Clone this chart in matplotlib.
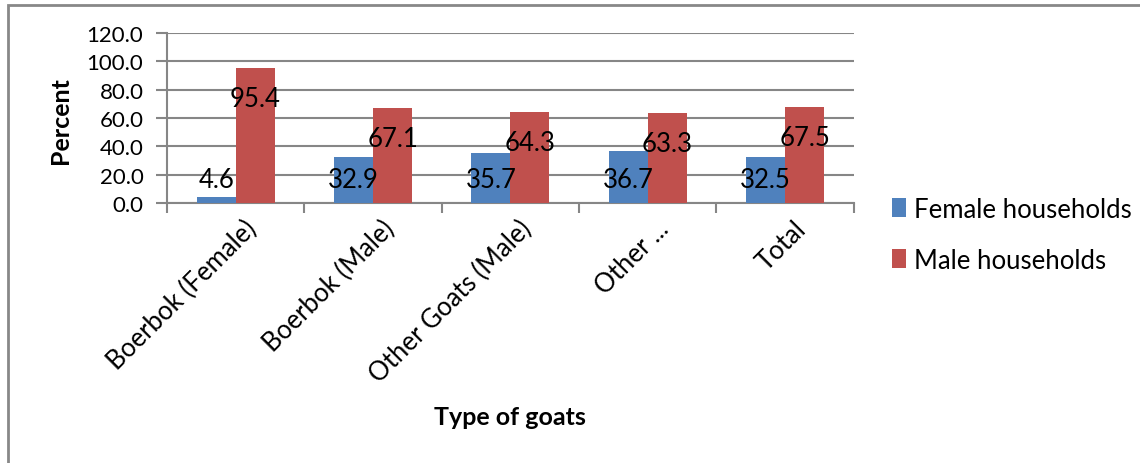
import numpy as np
import matplotlib
matplotlib.use('Agg')
import matplotlib.pyplot as plt
from matplotlib.patches import Rectangle

categories = ['Boerbok (Female)', 'Boerbok (Male)', 'Other Goats (Male)', 'Other ...', 'Total']
female = [4.6, 32.9, 35.7, 36.7, 32.5]
male = [95.4, 67.1, 64.3, 63.3, 67.5]
series_names = ['Female households', 'Male households']


def make_plot():
   plt.rcParams['font.family'] = ['Lato', 'DejaVu Sans']
   fs = 18.5
   fs_y = 16

   fig = plt.figure(figsize=(11.4, 4.64), dpi=100)
   ax = fig.add_axes([0.1465, 0.560, 0.6025, 0.3667])

   x = np.arange(len(categories))
   w = 0.284
   blue = '#4F81BD'
   red = '#C0504D'
   grid = '#868686'

   ax.bar(x - w/2, female, w, color=blue, label=series_names[0], zorder=3)
   ax.bar(x + w/2, male, w, color=red, label=series_names[1], zorder=3)

   # data labels (placed like the original, not at bar tops)
   for i in range(len(categories)):
      ax.text(x[i] - w/2, 17.0, '%.1f' % female[i], ha='center', va='center',
              fontsize=fs, zorder=4)
      ax.text(x[i] + w/2, male[i] - 21.5, '%.1f' % male[i], ha='center', va='center',
              fontsize=fs, zorder=4)

   ax.set_xlim(-0.5, len(categories) - 0.5)
   ax.set_ylim(0, 120)
   ax.set_yticks(np.arange(0, 121, 20))
   ax.set_yticklabels(['%.1f' % v for v in np.arange(0, 121, 20)], fontsize=fs_y)
   ax.yaxis.grid(True, color=grid, lw=1.5, zorder=0)
   ax.tick_params(axis='y', length=8, width=1.5, color=grid, pad=9)

   # category boundary ticks on x axis
   ax.set_xticks(np.arange(-0.5, len(categories)), minor=False)
   ax.set_xticklabels([])
   ax.set_xticks(x + 0.06, minor=True)
   ax.set_xticklabels(categories, minor=True, rotation=45, ha='right',
                      rotation_mode='anchor', fontsize=fs)
   ax.tick_params(axis='x', which='major', length=7, width=1.5, color=grid)
   ax.tick_params(axis='x', which='minor', length=0, pad=9)

   for s in ['top', 'right']:
      ax.spines[s].set_visible(False)
   ax.spines['left'].set_color(grid)
   ax.spines['left'].set_linewidth(1.5)
   ax.spines['bottom'].set_color(grid)
   ax.spines['bottom'].set_linewidth(1.5)

   fig.text(0.053, 0.74, 'Percent', rotation=90, ha='center', va='center',
            fontsize=18, fontweight='bold')
   fig.text(0.447, 0.10, 'Type of goats', ha='center', va='center',
            fontsize=18, fontweight='bold')

   fig.legend(loc='center left', bbox_to_anchor=(0.762, 0.492), frameon=False,
              fontsize=fs, handlelength=0.55, handleheight=0.75, handletextpad=0.3,
              labelspacing=1.0)

   fig.add_artist(Rectangle((0.007, -0.01), 1.0, 0.998, transform=fig.transFigure,
                            fill=False, edgecolor='#888888', lw=2))

   plt.savefig('out.png', dpi=100)
   plt.close()


if __name__ == '__main__':
   make_plot()
